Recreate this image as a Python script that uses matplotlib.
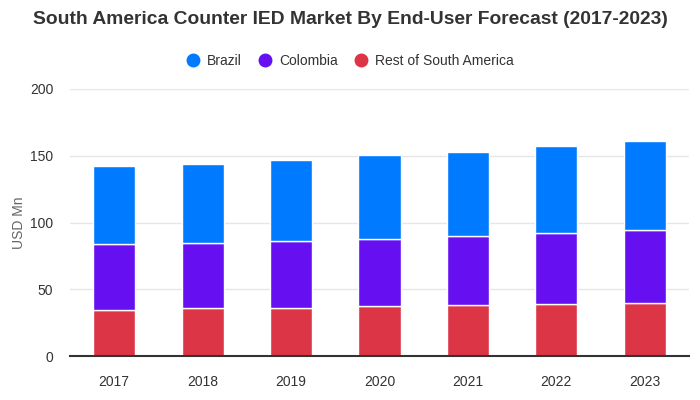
import matplotlib
matplotlib.use("Agg")
import matplotlib.pyplot as plt
import numpy as np

years = ["2017", "2018", "2019", "2020", "2021", "2022", "2023"]
rest = [34.8, 35.6, 36.3, 37.1, 38.1, 38.8, 39.6]
colombia = [49.3, 49.2, 50.0, 50.7, 51.9, 53.5, 54.9]
brazil = [57.9, 59.2, 60.7, 62.4, 63.0, 64.7, 66.2]
series_names = ["Brazil", "Colombia", "Rest of South America"]
colors = ["#007bff", "#6610f2", "#dc3545"]

plt.rcParams['font.family'] = ['Liberation Sans', 'DejaVu Sans']

fig = plt.figure(figsize=(7, 4), dpi=100)
ax = fig.add_axes([70/700, 1 - 356/400, 619/700, 267/400])

x = np.arange(len(years))
w = 0.475
rest_a = np.array(rest)
col_a = np.array(colombia)
bra_a = np.array(brazil)
ax.bar(x, rest_a, w, color=colors[2], edgecolor="white", linewidth=1, zorder=3)
ax.bar(x, col_a, w, bottom=rest_a, color=colors[1], edgecolor="white", linewidth=1, zorder=3)
ax.bar(x, bra_a, w, bottom=rest_a + col_a, color=colors[0], edgecolor="white", linewidth=1, zorder=3)

ax.set_xlim(-0.5, len(years) - 0.5)
ax.set_ylim(0, 200)
ax.set_yticks([0, 50, 100, 150, 200])
ax.set_xticks(x)
ax.set_xticklabels(years)
ax.tick_params(axis="both", length=0, labelsize=10, colors="#333333")
ax.tick_params(axis="x", pad=14)
ax.tick_params(axis="y", pad=12)
ax.grid(axis="y", color="#e6e6e6", linewidth=1, zorder=0)
for s in ["top", "right", "left"]:
    ax.spines[s].set_visible(False)
ax.spines["bottom"].set_color("#333333")
ax.spines["bottom"].set_linewidth(1.5)
ax.spines["bottom"].set_zorder(4)
ax.set_ylabel("USD Mn", fontsize=10, color="#666666")
ax.yaxis.set_label_coords((26 - 70) / 619, 0.5)

fig.text(0.5, 1 - 20/400, "South America Counter IED Market By End-User Forecast (2017-2023)",
         ha="center", va="center", fontsize=13.9, fontweight="bold", color="#333333")

handles = [plt.Line2D([], [], marker="o", linestyle="none", markersize=9, color=c) for c in colors]
fig.legend(handles, series_names, loc="center", bbox_to_anchor=(0.5, 1 - 61/400), ncol=3,
           frameon=False, fontsize=10, handlelength=1.0, handletextpad=0.5, columnspacing=1.2,
           labelcolor="#333333")

fig.savefig("out.png", dpi=100)
